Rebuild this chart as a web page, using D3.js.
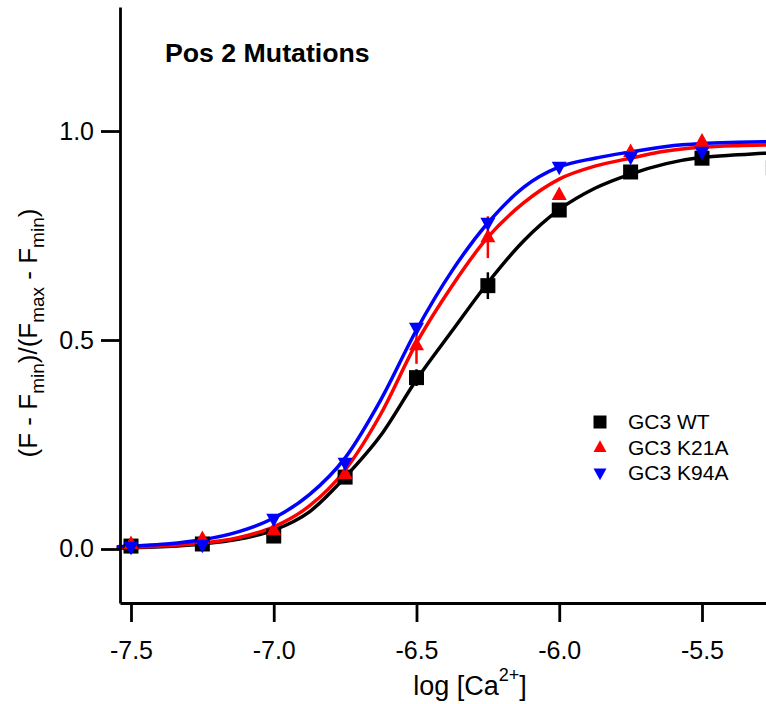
<!DOCTYPE html>
<html>
<head>
<meta charset="utf-8">
<script src="https://cdn.jsdelivr.net/npm/d3@7"></script>
<style>
  html, body { margin: 0; padding: 0; background: #fff; overflow: hidden; }
  svg { display: block; font-family: "Liberation Sans", Arial, sans-serif; }
</style>
</head>
<body>
<svg id="chart" width="766" height="704"></svg>
<script>
// ---- data ----
const concentrations = [-7.5, -7.25, -7.0, -6.75, -6.5, -6.25, -6.0, -5.75, -5.5, -5.25];

const wtValues   = [0.007, 0.012, 0.031, 0.172, 0.410, 0.630, 0.811, 0.902, 0.935, 0.912];
const wtErrors   = [0.005, 0.005, 0.008, 0.012, 0.020, 0.032, 0.010, 0.010, 0.010, 0.010];
const k21aValues = [0.012, 0.024, 0.045, 0.180, 0.488, 0.746, 0.847, 0.950, 0.975, 0.930];
const k21aErrors = [0.005, 0.005, 0.008, 0.012, 0.045, 0.050, 0.012, 0.010, 0.010, 0.010];
const k94aValues = [0.005, 0.010, 0.072, 0.206, 0.529, 0.780, 0.914, 0.938, 0.950, 0.970];
const k94aErrors = [0.005, 0.005, 0.006, 0.010, 0.012, 0.012, 0.008, 0.010, 0.010, 0.008];

// fitted curves
const fitX    = [-7.55, -7.5, -7.375, -7.25, -7.125, -7.0, -6.875, -6.75, -6.625, -6.5, -6.375, -6.25, -6.125, -6.0, -5.875, -5.75, -5.625, -5.5, -5.375, -5.25, -5.0];
const wtFit   = [0.002, 0.003, 0.006, 0.012, 0.023, 0.045, 0.089, 0.172, 0.272, 0.405, 0.522, 0.637, 0.737, 0.812, 0.863, 0.897, 0.922, 0.937, 0.943, 0.948, 0.953];
const k21aFit = [0.003, 0.004, 0.008, 0.014, 0.027, 0.053, 0.103, 0.189, 0.323, 0.493, 0.630, 0.746, 0.828, 0.885, 0.916, 0.935, 0.952, 0.961, 0.965, 0.967, 0.970];
const k94aFit = [0.005, 0.007, 0.012, 0.022, 0.041, 0.074, 0.130, 0.218, 0.357, 0.524, 0.666, 0.780, 0.865, 0.914, 0.935, 0.950, 0.963, 0.970, 0.973, 0.975, 0.977];

const seriesNames  = ["GC3 WT", "GC3 K21A", "GC3 K94A"];
const seriesColors = ["#000000", "#ff0000", "#0000ff"];
const seriesShapes = ["square", "up", "down"];

const xTicks = [-7.5, -7.0, -6.5, -6.0, -5.5];
const yTicks = [0.0, 0.5, 1.0];

// ---- build ----
const series = [
  { name: seriesNames[0], color: seriesColors[0], shape: seriesShapes[0], values: wtValues,   errors: wtErrors,   fit: wtFit },
  { name: seriesNames[1], color: seriesColors[1], shape: seriesShapes[1], values: k21aValues, errors: k21aErrors, fit: k21aFit },
  { name: seriesNames[2], color: seriesColors[2], shape: seriesShapes[2], values: k94aValues, errors: k94aErrors, fit: k94aFit }
];

const svg = d3.select("#chart");
const plotLeft = 120, plotBottom = 603, plotTop = 7;
const xMin = -7.5385, xMax = -5.0, pxPerUnit = 285.5;

const x = d3.scaleLinear().domain([xMin, xMax]).range([plotLeft, plotLeft + (xMax - xMin) * pxPerUnit]);
const y = d3.scaleLinear().domain([-0.1292, 1.2967]).range([plotBottom, plotTop]);

function symbolPath(shape, size) {
  const h = size / 2;
  if (shape === "square") return `M${-h},${-h}H${h}V${h}H${-h}Z`;
  const th = size * 0.9;
  if (shape === "up") return `M0,${-th * 0.62}L${h},${th * 0.38}L${-h},${th * 0.38}Z`;
  return `M0,${th * 0.62}L${h},${-th * 0.38}L${-h},${-th * 0.38}Z`;
}

const plot = svg.append("g");

// fit curves
const line = d3.line().x(d => x(d[0])).y(d => y(d[1])).curve(d3.curveMonotoneX);
series.forEach(s => {
  plot.append("path")
    .datum(fitX.map((v, i) => [v, s.fit[i]]))
    .attr("d", line)
    .attr("fill", "none")
    .attr("stroke", s.color)
    .attr("stroke-width", 3.5);
});

// error bars + markers
series.forEach(s => {
  const g = plot.append("g");
  concentrations.forEach((c, i) => {
    g.append("line")
      .attr("x1", x(c)).attr("x2", x(c))
      .attr("y1", y(s.values[i] - s.errors[i]))
      .attr("y2", y(s.values[i] + s.errors[i]))
      .attr("stroke", s.color).attr("stroke-width", 2.5);
  });
  g.selectAll("path.m")
    .data(concentrations.map((c, i) => [c, s.values[i]]))
    .join("path")
    .attr("class", "m")
    .attr("transform", d => `translate(${x(d[0])},${y(d[1])})`)
    .attr("d", symbolPath(s.shape, 15))
    .attr("fill", s.color);
});

// axes
const fmt = d => d.toFixed(1);
const xAxis = svg.append("g")
  .attr("transform", `translate(0,${plotBottom})`)
  .call(d3.axisBottom(x).tickValues(xTicks).tickFormat(fmt).tickSize(19).tickSizeOuter(0).tickPadding(19));
const yAxis = svg.append("g")
  .attr("transform", `translate(${plotLeft},0)`)
  .call(d3.axisLeft(y).tickValues(yTicks).tickFormat(fmt).tickSize(19).tickSizeOuter(0).tickPadding(7));

[xAxis, yAxis].forEach(a => {
  a.select(".domain").attr("stroke", "#000").attr("stroke-width", 2.8);
  a.selectAll(".tick line").attr("stroke", "#000").attr("stroke-width", 2.8);
  a.selectAll(".tick text").attr("fill", "#000").style("font-size", "25px")
    .style("font-family", '"Liberation Sans", Arial, sans-serif');
});

// title
svg.append("text")
  .attr("x", 165).attr("y", 62)
  .style("font-size", "26.7px").style("font-weight", "bold")
  .text("Pos 2 Mutations");

// x label
const xl = svg.append("text")
  .attr("x", 470).attr("y", 695)
  .attr("text-anchor", "middle")
  .style("font-size", "27px");
xl.append("tspan").text("log [Ca");
xl.append("tspan").attr("dy", -14).style("font-size", "18px").text("2+");
xl.append("tspan").attr("dy", 14).text("]");

// y label
const yl = svg.append("text")
  .attr("transform", "translate(37,333) rotate(-90)")
  .attr("text-anchor", "middle")
  .style("font-size", "26px");
yl.append("tspan").text("(F - F");
yl.append("tspan").attr("dy", 7).style("font-size", "19px").text("min");
yl.append("tspan").attr("dy", -7).text(")/(F");
yl.append("tspan").attr("dy", 7).style("font-size", "19px").text("max");
yl.append("tspan").attr("dy", -7).text(" - F");
yl.append("tspan").attr("dy", 7).style("font-size", "19px").text("min");
yl.append("tspan").attr("dy", -7).text(")");

// legend
const legend = svg.append("g");
series.forEach((s, i) => {
  const cy = 422 + i * 25.5;
  legend.append("path")
    .attr("transform", `translate(600,${cy})`)
    .attr("d", symbolPath(s.shape, 13))
    .attr("fill", s.color);
  legend.append("text")
    .attr("x", 628).attr("y", cy + 7)
    .style("font-size", "21px")
    .text(s.name);
});
</script>
</body>
</html>
